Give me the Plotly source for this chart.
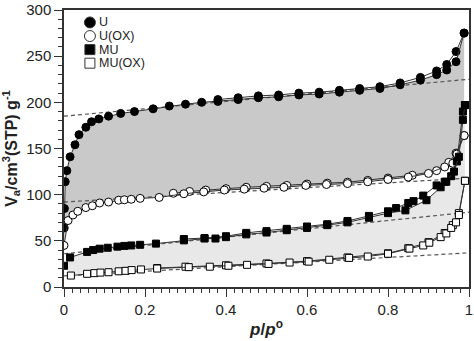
import plotly.graph_objects as go

# ---------------- data ----------------
# U (filled circles)
u_ads_p = [0.0005, 0.001, 0.003, 0.007, 0.015, 0.027, 0.037, 0.054, 0.068, 0.086, 0.11, 0.14, 0.174,
           0.22, 0.26, 0.30, 0.34, 0.38, 0.43, 0.48, 0.53, 0.58, 0.63, 0.68, 0.73, 0.78, 0.83, 0.88,
           0.92, 0.945, 0.968, 0.988]
u_ads_v = [64, 85, 114, 126, 141, 154, 165, 173, 179, 182, 185, 188, 190,
           193, 196, 198, 200, 201, 203, 205, 206, 208, 209, 211, 213, 215, 219, 224,
           230, 235, 244, 275]
u_des_p = [0.988, 0.968, 0.945, 0.92, 0.88, 0.83, 0.78, 0.73, 0.68, 0.63, 0.58, 0.53, 0.48, 0.43, 0.38]
u_des_v = [275, 255, 241, 234, 227, 221, 217, 215, 213, 211, 210, 208, 207, 205, 203]

# U(OX) (open circles)
uox_ads_p = [0.0, 0.01, 0.022, 0.034, 0.054, 0.07, 0.088, 0.11, 0.135, 0.149, 0.166, 0.188, 0.235,
             0.296, 0.345, 0.396, 0.445, 0.494, 0.543, 0.597, 0.648, 0.70, 0.75, 0.80, 0.85, 0.90,
             0.94, 0.96, 0.97, 0.988]
uox_ads_v = [45, 72, 78, 82, 86, 88, 91, 92, 94, 94.5, 95, 96, 97,
             101, 103, 105, 106, 107, 108, 110, 111, 112, 114, 116.5, 119, 123,
             130, 134, 144, 164]
uox_des_p = [0.988, 0.968, 0.95, 0.92, 0.86, 0.80, 0.75, 0.70, 0.65, 0.60, 0.55, 0.50, 0.45, 0.40,
             0.35, 0.31, 0.27]
uox_des_v = [164, 145, 135, 126, 121, 118, 115.5, 113.5, 112.5, 111.5, 110, 109, 108, 106.5,
             105, 103.5, 101.5]

# MU (filled squares)
mu_ads_p = [0.0, 0.015, 0.057, 0.072, 0.088, 0.108, 0.132, 0.149, 0.166, 0.188, 0.227, 0.296, 0.347,
            0.374, 0.40, 0.45, 0.50, 0.55, 0.60, 0.65, 0.70, 0.753, 0.80, 0.843, 0.895, 0.93, 0.944,
            0.963, 0.975, 0.985, 0.99]
mu_ads_v = [23, 32, 38, 40, 41.5, 42.5, 43.7, 44.5, 45, 45.7, 47, 50.5, 52.5,
            52.5, 54, 57, 59, 61.5, 64, 67, 70, 75, 80, 83, 94, 108, 114,
            125, 141, 181, 197]
mu_des_p = [0.99, 0.985, 0.97, 0.956, 0.94, 0.92, 0.887, 0.863, 0.85, 0.82, 0.80, 0.753, 0.70, 0.65,
            0.60, 0.55, 0.50, 0.45, 0.40, 0.347, 0.296]
mu_des_v = [197, 190, 136, 120, 114, 110, 99, 93, 91, 85.5, 82, 77, 71.5, 68,
            65.5, 63, 60.5, 58.6, 55, 53, 52]

# MU(OX) (open squares)
muox_ads_p = [0.017, 0.057, 0.075, 0.09, 0.11, 0.135, 0.152, 0.167, 0.19, 0.23, 0.308, 0.36, 0.406,
              0.452, 0.505, 0.557, 0.604, 0.655, 0.704, 0.75, 0.80, 0.853, 0.887, 0.902, 0.93, 0.944,
              0.956, 0.968, 0.975, 0.99]
muox_ads_v = [12.4, 14.3, 15, 15.6, 16, 17, 17.5, 18.3, 19, 20, 21.5, 22, 23,
              24, 25, 26.5, 27.5, 29.5, 31.5, 33, 36, 41.6, 45, 48, 54, 58,
              64, 70, 78, 115]
muox_des_p = [0.99, 0.975, 0.96, 0.94, 0.90, 0.85, 0.80, 0.70, 0.60, 0.50, 0.40, 0.30, 0.23]
muox_des_v = [115, 80, 67, 58.5, 48.5, 42, 36.5, 32, 28, 25.5, 23.5, 22, 20.5]

# linear fits (dashed): value at p=0 and p=1
fit_p = [0.0, 1.0]
u_fit = [185, 225]
uox_fit = [92, 118]
mu_fit = [36, 81]
muox_fit = [12, 37]

x_ticks = [0, 0.2, 0.4, 0.6, 0.8, 1.0]
x_ticklabels = ["0", "0.2", "0.4", "0.6", "0.8", "1"]
y_ticks = [0, 50, 100, 150, 200, 250, 300]

legend_names = ["U", "U(OX)", "MU", "MU(OX)"]
legend_shapes = ["circle", "circle", "rect", "rect"]
legend_fills = ["#000000", "#ffffff", "#000000", "#ffffff"]

# ---------------- figure ----------------
FONT = "Liberation Sans"
fig = go.Figure()

# shaded regions
fig.add_trace(go.Scatter(x=u_ads_p + uox_ads_p[::-1], y=u_ads_v + uox_ads_v[::-1],
                         fill="toself", fillcolor="#c9c9c9", line=dict(width=0),
                         mode="lines", hoverinfo="skip", showlegend=False))
fig.add_trace(go.Scatter(x=mu_ads_p + muox_ads_p[::-1], y=mu_ads_v + muox_ads_v[::-1],
                         fill="toself", fillcolor="#e8e8e8", line=dict(width=0),
                         mode="lines", hoverinfo="skip", showlegend=False))

# dashed fit lines
for f in (u_fit, uox_fit, mu_fit, muox_fit):
    fig.add_trace(go.Scatter(x=fit_p, y=f, mode="lines",
                             line=dict(color="#555555", width=1.2, dash="4px,3px"),
                             hoverinfo="skip", showlegend=False))

def branch(px, pv, symbol, fill, size):
    fig.add_trace(go.Scatter(x=px, y=pv, mode="lines+markers",
                             line=dict(color="#333333", width=1),
                             marker=dict(symbol=symbol, size=size, color=fill,
                                         line=dict(color="#000000", width=1)),
                             showlegend=False))

branch(u_des_p, u_des_v, "circle", "#000000", 8)
branch(u_ads_p, u_ads_v, "circle", "#000000", 8)
branch(uox_des_p, uox_des_v, "circle", "#ffffff", 8)
branch(uox_ads_p, uox_ads_v, "circle", "#ffffff", 8)
branch(mu_des_p, mu_des_v, "square", "#000000", 7)
branch(mu_ads_p, mu_ads_v, "square", "#000000", 7)
branch(muox_des_p, muox_des_v, "square", "#ffffff", 7)
branch(muox_ads_p, muox_ads_v, "square", "#ffffff", 7)

# compact legend (symbols as pixel-sized shapes, labels as text)
leg_x_sym = 0.064
leg_x_txt = 0.082
leg_y0 = 0.955
leg_dy = 0.049
shapes = []
annotations = []
for i, (name, shp, col) in enumerate(zip(legend_names, legend_shapes, legend_fills)):
    yy = leg_y0 - i * leg_dy
    half = 5.5 if shp == "circle" else 5
    shapes.append(dict(type=shp, xref="paper", yref="paper",
                       xsizemode="pixel", ysizemode="pixel",
                       xanchor=leg_x_sym, yanchor=yy,
                       x0=-half, x1=half, y0=-half, y1=half,
                       fillcolor=col, line=dict(color="#333333", width=1)))
    annotations.append(dict(text=name, xref="paper", yref="paper", x=leg_x_txt, y=yy,
                            xanchor="left", yanchor="middle", showarrow=False,
                            font=dict(size=12.5, color="#222222", family=FONT)))

fig.update_layout(
    width=474, height=341,
    margin=dict(l=64, r=1, t=7, b=54),
    paper_bgcolor="white", plot_bgcolor="white",
    font=dict(family=FONT, size=15, color="#222222"),
    showlegend=False,
    shapes=shapes,
    annotations=annotations,
)
fig.update_xaxes(range=[0, 1.0], tickvals=x_ticks, ticktext=x_ticklabels,
                 ticks="outside", ticklen=8, tickwidth=1.2, tickcolor="#333333",
                 ticklabeloverflow="allow",
                 showline=True, linecolor="#333333", linewidth=1.5, mirror=True,
                 showgrid=False, zeroline=False,
                 minor=dict(dtick=0.02, ticks="outside", ticklen=4, tickcolor="#333333", showgrid=False),
                 title=dict(text="<b><i>p</i>/<i>p</i><sup>o</sup></b>", font=dict(size=17), standoff=6))
fig.update_yaxes(range=[0, 300], tickvals=y_ticks,
                 ticks="outside", ticklen=8, tickwidth=1.2, tickcolor="#333333",
                 ticklabeloverflow="allow",
                 showline=True, linecolor="#333333", linewidth=1.5, mirror=True,
                 showgrid=False, zeroline=False,
                 minor=dict(dtick=10, ticks="outside", ticklen=4, tickcolor="#333333", showgrid=False),
                 title=dict(text="<b>V<sub>a</sub>/cm<sup>3</sup>(STP) g<sup>-1</sup></b>",
                            font=dict(size=16), standoff=6))

fig.write_html("out.html")
